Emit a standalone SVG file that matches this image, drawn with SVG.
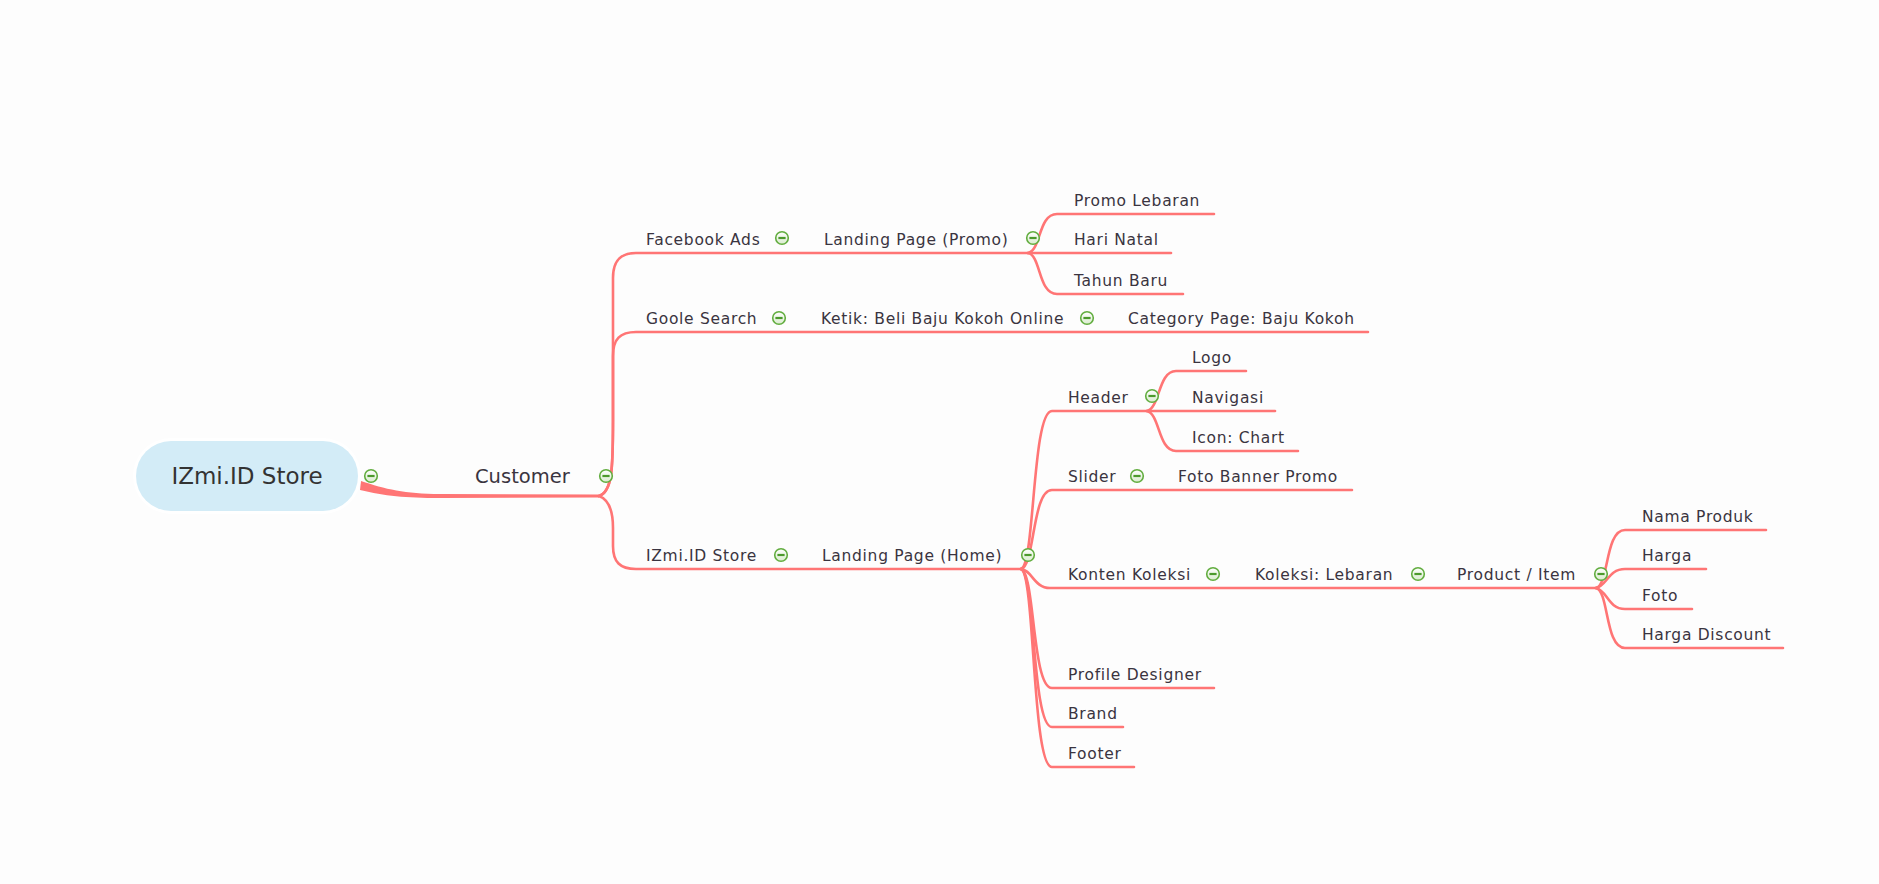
<svg xmlns="http://www.w3.org/2000/svg" width="1879" height="884" viewBox="0 0 1879 884">
<defs>
<style>
.t{font-family:"DejaVu Sans","Liberation Sans",sans-serif;font-size:15.5px;letter-spacing:0.7px;fill:#3a3440}
.c{fill:none;stroke:#FF7575;stroke-width:2.6;stroke-linecap:round}
</style>
<linearGradient id="ig" x1="0" y1="0" x2="0" y2="1"><stop offset="0" stop-color="#ffffff"/><stop offset="1" stop-color="#d9eccd"/></linearGradient>
<g id="minus"><circle cx="0" cy="0" r="6.3" fill="url(#ig)" stroke="#62ad3f" stroke-width="1.6"/><line x1="-3.6" y1="0" x2="3.6" y2="0" stroke="#4c9a2c" stroke-width="2.2"/></g>
</defs>
<rect width="1879" height="884" fill="#fdfdfd"/>
<g id="connectors">
<path d="M361,481 C385,489 405,494 440,494 L599,494.5 L599,497.5 L440,498 C405,498 385,496 360,490 Z" fill="#FF7575"/>
<path class="c" d="M599,496 C612,492 613,470 613,420 L613,278 C613,261 620,253 636,253 L1028,253"/>
<path class="c" d="M599,496 C612,492 613,470 613,420 L613,356 C613,339 620,332 636,332 L1368,332"/>
<path class="c" d="M599,496 C610,500 613,512 613,528 L613,546 C613,562 620,569 636,569 L1021,569"/>
<path class="c" d="M1028,253 C1041,251 1038,214 1057,214 L1214,214"/>
<path class="c" d="M1028,253 L1171,253"/>
<path class="c" d="M1028,253 C1041,255 1038,294 1057,294 L1183,294"/>
<path class="c" d="M1021,569 C1035,565 1032,411 1052,411 L1147,411"/>
<path class="c" d="M1021,569 C1035,566 1032,490 1052,490 L1352,490"/>
<path class="c" d="M1021,569 C1032,570 1034,588 1050,588 L1596,588"/>
<path class="c" d="M1021,569 C1035,573 1032,688 1052,688 L1214,688"/>
<path class="c" d="M1021,569 C1035,573 1032,727 1052,727 L1123,727"/>
<path class="c" d="M1021,569 C1035,573 1032,767 1052,767 L1134,767"/>
<path class="c" d="M1147,411 C1160,408 1158,371 1176,371 L1246,371"/>
<path class="c" d="M1147,411 L1275,411"/>
<path class="c" d="M1147,411 C1160,414 1158,451 1176,451 L1298,451"/>
<path class="c" d="M1596,588 C1609,585 1605,530 1625,530 L1766,530"/>
<path class="c" d="M1596,588 C1607,586 1608,569 1625,569 L1706,569"/>
<path class="c" d="M1596,588 C1607,590 1608,609 1625,609 L1692,609"/>
<path class="c" d="M1596,588 C1609,591 1605,648 1625,648 L1783,648"/>
</g>
<g id="root">
<rect x="133" y="438" width="228" height="76" rx="38" fill="#ffffff"/>
<rect x="136" y="441" width="222" height="70" rx="35" fill="#D3ECF7"/>
<text x="247" y="484" text-anchor="middle" style="font-family:'DejaVu Sans','Liberation Sans',sans-serif;font-size:23px;fill:#333">IZmi.ID Store</text>
<use href="#minus" x="371" y="476"/>
</g>
<g id="customer">
<text x="475" y="483" style="font-family:'DejaVu Sans','Liberation Sans',sans-serif;font-size:19.5px;fill:#3a3440">Customer</text>
<use href="#minus" x="606" y="476"/>
</g>
<g id="facebook-ads"><text class="t" x="646" y="245">Facebook Ads</text><use href="#minus" x="782" y="238"/></g>
<g id="landing-promo"><text class="t" x="824" y="245">Landing Page (Promo)</text><use href="#minus" x="1033" y="238"/></g>
<g id="promo-lebaran"><text class="t" x="1074" y="206">Promo Lebaran</text></g>
<g id="hari-natal"><text class="t" x="1074" y="245">Hari Natal</text></g>
<g id="tahun-baru"><text class="t" x="1074" y="286">Tahun Baru</text></g>
<g id="goole-search"><text class="t" x="646" y="324">Goole Search</text><use href="#minus" x="779" y="318"/></g>
<g id="ketik"><text class="t" x="821" y="324">Ketik: Beli Baju Kokoh Online</text><use href="#minus" x="1087" y="318"/></g>
<g id="category-page"><text class="t" x="1128" y="324">Category Page: Baju Kokoh</text></g>
<g id="izmi-store"><text class="t" x="646" y="561">IZmi.ID Store</text><use href="#minus" x="781" y="555"/></g>
<g id="landing-home"><text class="t" x="822" y="561">Landing Page (Home)</text><use href="#minus" x="1028" y="555"/></g>
<g id="header"><text class="t" x="1068" y="403">Header</text><use href="#minus" x="1152" y="396"/></g>
<g id="logo"><text class="t" x="1192" y="363">Logo</text></g>
<g id="navigasi"><text class="t" x="1192" y="403">Navigasi</text></g>
<g id="icon-chart"><text class="t" x="1192" y="443">Icon: Chart</text></g>
<g id="slider"><text class="t" x="1068" y="482">Slider</text><use href="#minus" x="1137" y="476"/></g>
<g id="foto-banner"><text class="t" x="1178" y="482">Foto Banner Promo</text></g>
<g id="konten-koleksi"><text class="t" x="1068" y="580">Konten Koleksi</text><use href="#minus" x="1213" y="574"/></g>
<g id="koleksi-lebaran"><text class="t" x="1255" y="580">Koleksi: Lebaran</text><use href="#minus" x="1418" y="574"/></g>
<g id="product-item"><text class="t" x="1457" y="580">Product / Item</text><use href="#minus" x="1601" y="574"/></g>
<g id="nama-produk"><text class="t" x="1642" y="522">Nama Produk</text></g>
<g id="harga"><text class="t" x="1642" y="561">Harga</text></g>
<g id="foto"><text class="t" x="1642" y="601">Foto</text></g>
<g id="harga-discount"><text class="t" x="1642" y="640">Harga Discount</text></g>
<g id="profile-designer"><text class="t" x="1068" y="680">Profile Designer</text></g>
<g id="brand"><text class="t" x="1068" y="719">Brand</text></g>
<g id="footer"><text class="t" x="1068" y="759">Footer</text></g>
</svg>
